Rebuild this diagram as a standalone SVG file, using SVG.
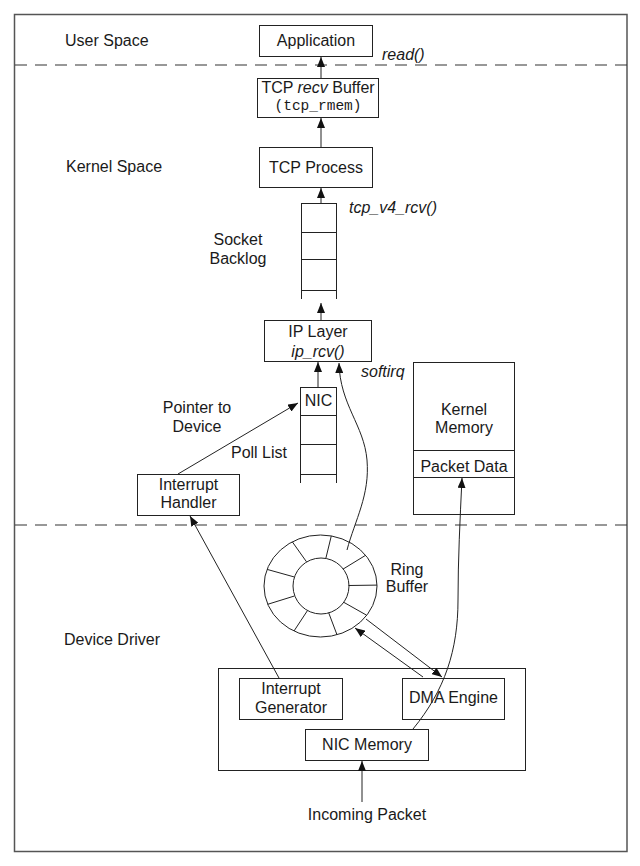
<svg xmlns="http://www.w3.org/2000/svg" width="640" height="866" viewBox="0 0 640 866">
<style>
text{font-family:"Liberation Sans",Arial,sans-serif;font-size:16px;fill:#1a1a1a}
.c{text-anchor:middle}
.i{font-style:italic}
.m{font-family:"Liberation Mono","Courier New",monospace;font-size:14.5px}
.box{fill:#fff;stroke:#222;stroke-width:1}
.ln{fill:none;stroke:#222;stroke-width:1}
.dash{stroke:#333;stroke-width:1.2;stroke-dasharray:12 8}
.arr{fill:none;stroke:#222;stroke-width:1;marker-end:url(#ah)}
</style>
<defs>
<marker id="ah" markerWidth="10" markerHeight="8" refX="10" refY="4" orient="auto" markerUnits="userSpaceOnUse"><path d="M0,0 L10,4 L0,8 z" fill="#111"/></marker>
</defs>
<rect width="640" height="866" fill="#fff"/>
<rect x="14.5" y="14.5" width="612.5" height="837" fill="none" stroke="#555" stroke-width="1.5"/>
<g id="regions">
<line class="dash" x1="15" y1="65" x2="627" y2="65"/>
<line class="dash" x1="15" y1="525" x2="627" y2="525"/>
<text x="65" y="46">User Space</text>
<text x="66" y="172">Kernel Space</text>
<text x="64" y="645">Device Driver</text>
</g>
<g id="application">
<rect class="box" x="259.5" y="25.5" width="113" height="31"/>
<text class="c" x="316" y="46">Application</text>
</g>
<g id="tcp-recv-buffer">
<rect class="box" x="257.5" y="78.5" width="121" height="39"/>
<text class="c" x="318" y="93">TCP <tspan class="i">recv</tspan> Buffer</text>
<text class="c m" x="318" y="110">(tcp_rmem)</text>
</g>
<g id="tcp-process">
<rect class="box" x="259.5" y="147.5" width="113" height="40"/>
<text class="c" x="316" y="173">TCP Process</text>
</g>
<g id="socket-backlog">
<path class="ln" d="M301.5,203 V299 M336.5,203 V299 M301.5,203.5 H336.5 M301.5,232.5 H336.5 M301.5,259.5 H336.5 M301.5,290.5 H336.5"/>
<text class="c" x="238" y="245">Socket</text>
<text class="c" x="238" y="264">Backlog</text>
<text class="i" x="349" y="213">tcp_v4_rcv()</text>
</g>
<g id="ip-layer">
<rect class="box" x="264.5" y="320.5" width="107" height="41"/>
<text class="c" x="318" y="337">IP Layer</text>
<text class="c i" x="318" y="357">ip_rcv()</text>
</g>
<g id="poll-list">
<path class="ln" d="M300.5,387 V483 M336.5,387 V483 M300.5,387.5 H336.5 M300.5,415.5 H336.5 M300.5,444.5 H336.5 M300.5,474.5 H336.5"/>
<text class="c" x="318.5" y="406">NIC</text>
<text class="c" x="259" y="458">Poll List</text>
</g>
<g id="interrupt-handler">
<rect class="box" x="137.5" y="474.5" width="102" height="41"/>
<text class="c" x="188.5" y="490">Interrupt</text>
<text class="c" x="188.5" y="508">Handler</text>
</g>
<g id="kernel-memory">
<rect class="box" x="413.5" y="362.5" width="101" height="152"/>
<line class="ln" x1="413.5" y1="450.5" x2="514.5" y2="450.5"/>
<line class="ln" x1="413.5" y1="477.5" x2="514.5" y2="477.5"/>
<text class="c" x="464" y="415">Kernel</text>
<text class="c" x="464" y="433">Memory</text>
<text class="c" x="464" y="472">Packet Data</text>
</g>
<g id="ring-buffer">
<ellipse class="ln" cx="320.5" cy="586" rx="56.5" ry="51"/>
<circle class="ln" cx="321" cy="586" r="28"/>
<path class="ln" d="M292.3,541.8 L306.5,561.8 M331.3,535.9 L325.8,558.5 M365.6,555.3 L342.9,569.2 M377,585.1 L348.5,585.5 M366.8,615.3 L343.4,602.1 M337,634.8 L328.7,612.8 M294,631 L307.4,610.7 M267.7,604.3 L294.4,596 M267.1,569.4 L294,576.9"/>
<text class="c" x="407" y="575">Ring</text>
<text class="c" x="407" y="592">Buffer</text>
</g>
<g id="nic">
<rect class="box" x="218.5" y="668.5" width="307" height="102"/>
<rect class="box" x="239.5" y="678.5" width="103" height="41"/>
<text class="c" x="291" y="694">Interrupt</text>
<text class="c" x="291" y="713">Generator</text>
<rect class="box" x="402.5" y="678.5" width="102" height="41"/>
<text class="c" x="453.5" y="703">DMA Engine</text>
<rect class="box" x="305.5" y="729.5" width="123" height="31"/>
<text class="c" x="367" y="750">NIC Memory</text>
</g>
<g id="incoming-packet">
<text class="c" x="367" y="820">Incoming Packet</text>
</g>
<g id="connectors">
<line class="arr" x1="321" y1="78" x2="321" y2="57"/>
<line class="arr" x1="321" y1="147" x2="321" y2="118"/>
<line class="arr" x1="321" y1="203" x2="321" y2="188"/>
<line class="arr" x1="321" y1="320" x2="321" y2="303"/>
<line class="arr" x1="318" y1="387" x2="318" y2="362"/>
<path class="arr" d="M347,550 C355,520 370,495 367,460 C364,425 340,405 339,363"/>
<text class="i" x="361" y="377">softirq</text>
<line class="arr" x1="178" y1="474" x2="298" y2="403"/>
<text class="c" x="197" y="413">Pointer to</text>
<text class="c" x="197" y="432">Device</text>
<line class="arr" x1="279" y1="678" x2="190" y2="516"/>
<path class="arr" d="M413,729 C445,690 458,650 458,600 C458,560 460,520 462,478"/>
<line class="arr" x1="423" y1="677" x2="355" y2="628"/>
<line class="arr" x1="366" y1="619" x2="442" y2="677"/>
<line class="arr" x1="362" y1="802" x2="362" y2="761"/>
<text class="i" x="382" y="60">read()</text>
</g>
</svg>
